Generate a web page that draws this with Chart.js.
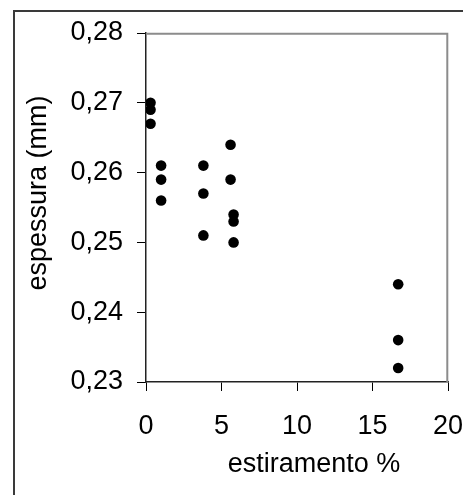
<!DOCTYPE html>
<html>
<head>
<meta charset="utf-8">
<script src="https://cdn.jsdelivr.net/npm/chart.js@4/dist/chart.umd.min.js"></script>
<style>
    html, body { margin: 0; padding: 0; background: #fff; }
    canvas { display: block; }
</style>
</head>
<body>
<canvas id="stretchChart" width="463" height="495"></canvas>
<script>
// values
const stretch   = [0.3, 0.3, 0.3, 1.0, 1.0, 1.0, 3.8, 3.8, 3.8, 5.6, 5.6, 5.8, 5.8, 5.8, 16.7, 16.7, 16.7];
const thickness = [0.270, 0.269, 0.267, 0.261, 0.259, 0.256, 0.261, 0.257, 0.251, 0.264, 0.259, 0.254, 0.253, 0.250, 0.244, 0.236, 0.232];
const xTicks = [0, 5, 10, 15, 20];
const yTicks = [0.23, 0.24, 0.25, 0.26, 0.27, 0.28];
const xTitle = 'estiramento %';
const yTitle = 'espessura (mm)';

const font = { family: '"Liberation Sans", Arial, sans-serif', size: 27 };
Chart.defaults.color = '#000';

// outer frame, grey top/right edge of the plot, and both axis titles
// (they sit off-centre in the original, so they are placed by hand)
const framePlugin = {
    id: 'frame',
    afterDraw(chart) {
        const { ctx, chartArea: a } = chart;
        ctx.save();
        ctx.strokeStyle = '#3a3a3a';
        ctx.lineWidth = 2;
        ctx.strokeRect(14, 11, 600, 600);

        ctx.strokeStyle = '#8c8c8c';
        ctx.beginPath();
        ctx.moveTo(a.left, a.top + 0.7);
        ctx.lineTo(a.right - 0.7, a.top + 0.7);
        ctx.lineTo(a.right - 0.7, a.bottom);
        ctx.stroke();

        ctx.fillStyle = '#000';
        ctx.font = `${font.size}px ${font.family}`;
        ctx.textAlign = 'center';
        ctx.textBaseline = 'middle';
        ctx.fillText(xTitle, 314, 465);

        ctx.translate(39, 193);
        ctx.rotate(-Math.PI / 2);
        ctx.fillText(yTitle, 0, 0);
        ctx.restore();
    }
};

const points = stretch.map((x, i) => ({ x: x, y: thickness[i] }));

new Chart(document.getElementById('stretchChart'), {
    type: 'scatter',
    data: {
        datasets: [{
            data: points,
            backgroundColor: '#000',
            borderWidth: 0,
            pointRadius: 5.3
        }]
    },
    options: {
        responsive: false,
        animation: false,
        layout: { padding: { top: 33, right: 0, bottom: 0, left: 0 } },
        plugins: { legend: { display: false }, tooltip: { enabled: false } },
        scales: {
            x: {
                type: 'linear',
                min: 0,
                max: 20,
                afterBuildTicks: s => { s.ticks = xTicks.map(v => ({ value: v })); },
                afterFit: s => { s.height = 113; s.paddingRight = 15; },
                ticks: { font: font, padding: 19, maxRotation: 0 },
                grid: { drawOnChartArea: false, tickLength: 9, color: '#000' },
                border: { display: true, color: '#222', width: 1.5 }
            },
            y: {
                type: 'linear',
                min: 0.23,
                max: 0.28,
                afterBuildTicks: s => { s.ticks = yTicks.map(v => ({ value: v })); },
                afterFit: s => { s.width = 146; },
                ticks: {
                    font: font,
                    padding: 14,
                    callback: v => v.toFixed(2).replace('.', ',')
                },
                grid: { drawOnChartArea: false, tickLength: 9, color: '#000' },
                border: { display: true, color: '#222', width: 1.5 }
            }
        }
    },
    plugins: [framePlugin]
});
</script>
</body>
</html>
